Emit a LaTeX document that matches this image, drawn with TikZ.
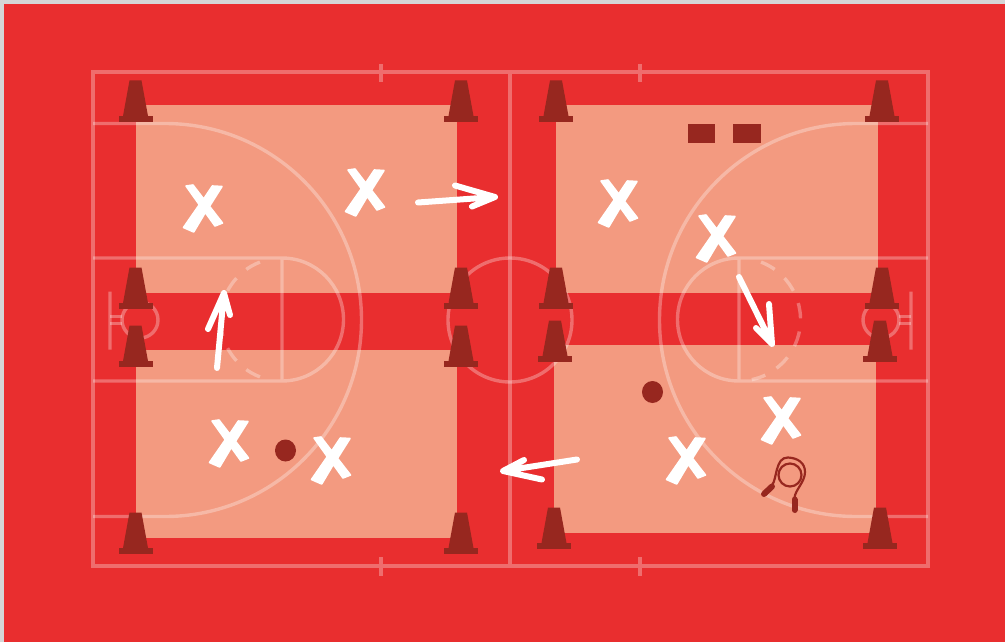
\documentclass[tikz,border=0pt]{standalone}
\usepackage{tikz}
\definecolor{courtred}{HTML}{E92E2F}
\definecolor{zonepale}{HTML}{F39A80}
\definecolor{conedark}{HTML}{97271F}
\definecolor{edgegrey}{HTML}{D5D6D6}

\begin{document}
\begin{tikzpicture}[x=1pt,y=-1pt,
  zone/.style={fill=zonepale},
  courtline/.style={draw=white,draw opacity=.3,line width=3.4pt},
  chalk/.style={draw=white,line width=6pt,line cap=round,line join=round},
  gear/.style={fill=conedark},
  xmark/.pic={
    \filldraw[white,line width=1.6pt,line join=round] (-17,-22) -- (-10,-23) -- (.7,-9) -- (9.3,-22) -- (19,-21.5)
      -- (6.5,-1.7) -- (19.5,15) -- (12,18) -- (2.3,4.5) -- (-9.3,24) -- (-19.5,19.5) -- (-3.7,-3.3) -- cycle;
  }]
  \useasboundingbox (0,0) rectangle (1005,642);
  \fill[edgegrey] (0,0) rectangle (1005,642);
  \fill[courtred] (4,4) rectangle (1005,642);
  % pale zones
  \fill[zone] (135.5,105) rectangle (457,293);
  \fill[zone] (135.5,349.5) rectangle (457,538);
  \fill[zone] (556,105) rectangle (877.5,293);
  \fill[zone] (554,345) rectangle (875.5,533);
  % court lines
  \draw[courtline,line width=4pt] (93,72) rectangle (928,566) (510,72) -- (510,566)
    (381,64) -- (381,82) (640,64) -- (640,82) (381,557) -- (381,576) (640,557) -- (640,576);
  \draw[courtline] (510,320) circle (62);
  % left half
  \draw[courtline] (93,123.5) -- (165,123.5) arc (-90:90:196.5) -- (93,516.5);
  \draw[courtline] (93,258) -- (282,258) arc (-90:90:61.5) -- (93,381) (282,258) -- (282,381);
  \draw[courtline,dash pattern=on 15.5pt off 13.2pt] (282,319.5) ++(249:61.5) arc (249:180:61.5);
  \draw[courtline,dash pattern=on 15.5pt off 13.2pt] (282,319.5) ++(111:61.5) arc (111:180:61.5);
  \draw[courtline] (140,320) circle (18) (110,291.5) -- (110,349.5);
  \draw[courtline,line width=2.8pt] (110,316.5) -- (122,316.5) (110,323.5) -- (122,323.5);
  % right half
  \draw[courtline] (928,123.5) -- (856,123.5) arc (270:90:196.5) -- (928,516.5);
  \draw[courtline] (928,258) -- (739,258) arc (270:90:61.5) -- (928,381) (739,258) -- (739,381);
  \draw[courtline,dash pattern=on 15.5pt off 13.2pt] (739,319.5) ++(-69:61.5) arc (-69:78:61.5);
  \draw[courtline] (881,320) circle (18) (911,291.5) -- (911,349.5);
  \draw[courtline,line width=2.8pt] (911,316.5) -- (899,316.5) (911,323.5) -- (899,323.5);
  % cones
  \foreach \cx/\cy in {135.5/122,461/122,556/122,882/122,135.5/309,461/309,556/309,882/309,
      135.5/367,461/367,555/362,880/362,135.5/554,461/554,554/549,880/549} {
    \fill[gear] (\cx-6,\cy-41.5) -- (\cx+6,\cy-41.5) -- (\cx+12.5,\cy-6) -- (\cx-12.5,\cy-6) -- cycle;
    \fill[gear] (\cx-17,\cy-6) rectangle (\cx+17,\cy);
  }
  % balls and blocks
  \fill[gear] (285.5,450.5) ellipse (10.5 and 11);
  \fill[gear] (652.5,392) ellipse (10.5 and 11);
  \fill[gear] (687.5,123.5) rectangle (715,142.5);
  \fill[gear] (733,123.5) rectangle (760.5,142.5);
  % players
  \foreach \px/\py in {203/208,365/192,618/203,716/238,229/443,331/460,781/420,686/460}
    \pic at (\px,\py) {xmark};
  % arrows
  \draw[chalk] (418,202.5) -- (495,197) (455,185.5) -- (495,197) -- (472,206.5);
  \draw[chalk] (217,368) -- (224,293) (208,329) -- (224,293) -- (230,315);
  \draw[chalk] (739,277) -- (772,344) (769,304) -- (772,344) -- (756,328);
  \draw[chalk] (577,459.5) -- (503,471) (524,460) -- (503,471) -- (542,479.5);
  % skipping rope
  \draw[conedark,line width=2.2pt] (772,485) .. controls (777,480) and (775,457) .. (788,457.5)
    .. controls (798,458) and (805,463) .. (805,472) .. controls (805,482) and (795,490) .. (794.5,498);
  \draw[conedark,line width=2.2pt] (790,475) circle (11.5);
  \draw[conedark,line width=6pt,line cap=round] (764,494) -- (772,486.5);
  \draw[conedark,line width=6pt,line cap=round] (794.5,499.5) -- (794.5,510);
\end{tikzpicture}
\end{document}
